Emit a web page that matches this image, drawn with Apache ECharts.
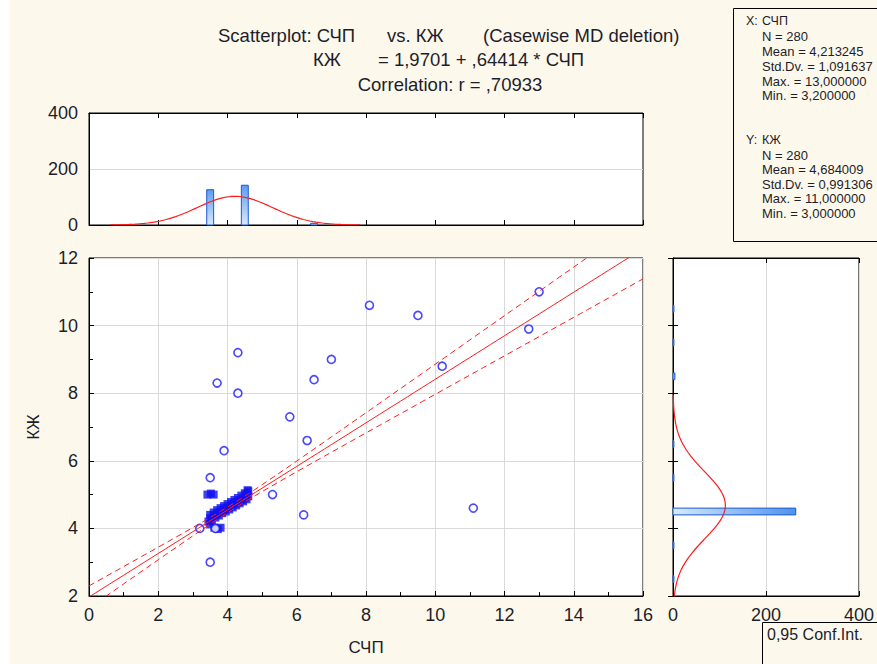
<!DOCTYPE html>
<html><head><meta charset="utf-8">
<script src="https://cdn.jsdelivr.net/npm/echarts@6/dist/echarts.min.js"></script>
<style>html,body{margin:0;padding:0;background:#fdf8ec}#c{width:877px;height:664px}</style>
</head><body><div id="c"></div>
<script>
// ---- data ----
const outX = [13.0, 12.7, 8.1, 9.5, 10.2, 7.0, 6.5, 4.3, 3.7, 4.3, 5.8, 3.9, 6.3, 3.5, 5.3, 6.2, 11.1, 3.5, 3.2, 3.65];
const outY = [11.0, 9.9, 10.6, 10.3, 8.8, 9.0, 8.4, 9.2, 8.3, 8.0, 7.3, 6.3, 6.6, 5.5, 5.0, 4.4, 4.6, 3.0, 4.0, 4.0];
const denseX = [3.45, 3.5, 3.55, 3.6, 3.65, 3.7, 3.75, 3.8, 3.85, 3.9, 3.95, 4.0, 4.05, 4.1, 4.15, 4.2, 4.25, 4.3, 4.35, 4.4, 4.45, 4.5, 4.55, 4.55, 4.6, 4.6,
                3.5, 3.6, 3.7, 3.8, 3.9, 4.0, 4.1, 4.2, 4.3, 4.4, 4.5, 4.58,
                3.42, 3.52, 3.6, 3.62, 3.72, 3.8, 3.5];
const denseY = [4.20, 4.30, 4.25, 4.35, 4.32, 4.42, 4.38, 4.48, 4.45, 4.55, 4.50, 4.60, 4.56, 4.66, 4.62, 4.72, 4.68, 4.78, 4.74, 4.84, 4.80, 4.90, 5.00, 4.86, 5.10, 4.95,
                4.40, 4.47, 4.54, 4.60, 4.66, 4.72, 4.78, 4.84, 4.90, 4.97, 5.04, 5.13,
                5.00, 5.03, 5.00, 4.02, 3.98, 4.02, 4.12];
const histXBins = [3.5, 4.5, 6.5];
const histXCounts = [126, 142, 6];
const histYBins = [2.5, 3.5, 4.5, 5.5, 6.5, 8.5, 9.5, 10.5];
const histYCounts = [2, 2, 264, 2, 2, 4, 2, 2];
// reported statistics
const N = 280, meanX = 4.213245, sdX = 1.091637, meanY = 4.684009, sdY = 0.991306;
const b0 = 1.9701, b1 = 0.64414, r = 0.70933;
const statsX = ['N = 280', 'Mean = 4,213245', 'Std.Dv. = 1,091637', 'Max. = 13,000000', 'Min. = 3,200000'];
const statsY = ['N = 280', 'Mean = 4,684009', 'Std.Dv. = 0,991306', 'Max. = 11,000000', 'Min. = 3,000000'];

// ---- fitted curves from the reported statistics ----
function pdf(v, m, s) { return Math.exp(-0.5 * ((v - m) / s) ** 2) / (s * Math.sqrt(2 * Math.PI)); }
const normTop = [], normRight = [];
for (let i = 0; i <= 80; i++) {
  const vx = meanX - 3.3 * sdX + i * 6.6 * sdX / 80;
  normTop.push([vx, N * pdf(vx, meanX, sdX)]);
  const vy = meanY - 3.3 * sdY + i * 6.6 * sdY / 80;
  normRight.push([N * pdf(vy, meanY, sdY), vy]);
}
const sRes = sdY * Math.sqrt(1 - r * r) * Math.sqrt((N - 1) / (N - 2));
const Sxx = (N - 1) * sdX * sdX, tq = 1.9687;
const regLine = [], upBand = [], loBand = [];
for (let i = 0; i <= 80; i++) {
  const vx = i * 16 / 80, yh = b0 + b1 * vx;
  const se = sRes * Math.sqrt(1 / N + (vx - meanX) ** 2 / Sxx);
  regLine.push([vx, yh]); upBand.push([vx, yh + tq * se]); loBand.push([vx, yh - tq * se]);
}

const FF = '"Liberation Sans", Arial, sans-serif';
const TXT = '#1e1e2a';
const BG = '#fdf8ec';
const chart = echarts.init(document.getElementById('c'), null, { renderer: 'svg' });

function vBar(params, api) {
  const x = api.value(0), h = api.value(1);
  const p0 = api.coord([x - 0.1, 0]), p1 = api.coord([x + 0.1, h]);
  return { type: 'rect', shape: { x: p0[0], y: p1[1], width: p1[0] - p0[0], height: p0[1] - p1[1] },
    style: { fill: new echarts.graphic.LinearGradient(0, 0, 0, 1, [{ offset: 0, color: '#5d9cef' }, { offset: 1, color: '#d8e9fc' }]), stroke: '#1d5ad0', lineWidth: 1 } };
}
function hBar(params, api) {
  const y = api.value(0), w = api.value(1);
  const p0 = api.coord([0, y + 0.1]), p1 = api.coord([w, y - 0.1]);
  return { type: 'rect', shape: { x: p0[0], y: p0[1], width: p1[0] - p0[0], height: p1[1] - p0[1] },
    style: { fill: new echarts.graphic.LinearGradient(0, 0, 1, 0, [{ offset: 0, color: '#d8e9fc' }, { offset: 1, color: '#4f92ec' }]), stroke: '#1d5ad0', lineWidth: 1 } };
}

const gridBase = { show: true, backgroundColor: '#fff', borderColor: '#000', borderWidth: 1, containLabel: false };
const lbl = { fontSize: 18, color: TXT, fontFamily: FF };
const split = { show: true, lineStyle: { color: '#d9d9d9', width: 1 } };
const blackLine = { show: true, lineStyle: { color: '#000', width: 1 } };
const tickIn = { show: true, inside: true, length: 5, lineStyle: { color: '#000' } };

function txt(x, y, t, size, extra) {
  return Object.assign({ type: 'text', x: x, y: y, z: 52, style: { text: t, font: size + 'px ' + FF, fill: TXT, verticalAlign: 'middle' } }, extra || {});
}
const graphics = [
  { type: 'rect', x: 0, y: 0, shape: { width: 10, height: 664 }, style: { fill: '#fff' }, z: -10 },
  txt(218, 35, 'Scatterplot: СЧП', 18.5),
  txt(387, 35, 'vs. КЖ', 18.5),
  txt(483, 35, '(Casewise MD deletion)', 18.5),
  txt(313, 59.5, 'КЖ', 18.5),
  txt(378, 59.5, '= 1,9701 + ,64414 * СЧП', 18.5),
  { type: 'text', x: 450, y: 84, z: 52, style: { text: 'Correlation: r = ,70933', font: '18.5px ' + FF, fill: TXT, align: 'center', verticalAlign: 'middle' } },
  { type: 'rect', x: 733.5, y: 8.5, shape: { width: 200, height: 233 }, style: { fill: 'none', stroke: '#000', lineWidth: 1 }, z: 50 },
  txt(746, 21, 'X:', 12.5), txt(762, 21, 'СЧП', 12.5),
  txt(746, 140, 'Y:', 12.5), txt(762, 140, 'КЖ', 12.5),
  { type: 'rect', x: 762.5, y: 622.5, shape: { width: 200, height: 100 }, style: { fill: BG, stroke: '#000', lineWidth: 1 }, z: 60 },
  { type: 'text', x: 767, y: 634, z: 61, style: { text: '0,95 Conf.Int.', font: '16px ' + FF, fill: TXT, verticalAlign: 'middle' } }
];
statsX.forEach((t, i) => graphics.push(txt(762, 36.5 + i * 14.85, t, 13)));
statsY.forEach((t, i) => graphics.push(txt(762, 155 + i * 14.5, t, 13)));

chart.setOption({
  backgroundColor: BG,
  animation: false,
  grid: [
    Object.assign({ left: 89, top: 258, width: 554, height: 338 }, gridBase),
    Object.assign({ left: 89, top: 113, width: 554, height: 112 }, gridBase),
    Object.assign({ left: 673, top: 258, width: 186, height: 338 }, gridBase)
  ],
  xAxis: [
    { gridIndex: 0, type: 'value', min: 0, max: 16, interval: 2, position: 'bottom', axisLine: blackLine, axisTick: tickIn,
      minorTick: { show: true, splitNumber: 2, length: 4, lineStyle: { color: '#000' } },
      axisLabel: Object.assign({ margin: 10 }, lbl), splitLine: split,
      name: 'СЧП', nameLocation: 'middle', nameGap: 43, nameTextStyle: { fontSize: 17, color: TXT, fontFamily: FF } },
    { gridIndex: 1, type: 'value', min: 0, max: 16, interval: 2, position: 'bottom', axisLine: blackLine, axisTick: tickIn, axisLabel: { show: false }, splitLine: { show: false } },
    { gridIndex: 1, type: 'value', min: 0, max: 16, interval: 2, position: 'top', axisLine: blackLine, axisTick: tickIn, axisLabel: { show: false }, splitLine: { show: false } },
    { gridIndex: 2, type: 'value', min: 0, max: 400, interval: 200, position: 'bottom', axisLine: blackLine, axisTick: tickIn,
      axisLabel: Object.assign({ margin: 10 }, lbl), splitLine: split },
    { gridIndex: 2, type: 'value', min: 0, max: 400, interval: 200, position: 'top', axisLine: blackLine, axisTick: tickIn, axisLabel: { show: false }, splitLine: { show: false } }
  ],
  yAxis: [
    { gridIndex: 0, type: 'value', min: 2, max: 12, interval: 2, position: 'left', axisLine: blackLine, axisTick: tickIn,
      minorTick: { show: true, splitNumber: 2, length: 4, lineStyle: { color: '#000' } },
      axisLabel: Object.assign({ margin: 11 }, lbl), splitLine: split,
      name: 'КЖ', nameLocation: 'middle', nameGap: 47, nameTextStyle: { fontSize: 17, color: TXT, fontFamily: FF } },
    { gridIndex: 1, type: 'value', min: 0, max: 400, interval: 200, position: 'left', axisLine: blackLine, axisTick: { show: false },
      axisLabel: Object.assign({ margin: 11 }, lbl), splitLine: split },
    { gridIndex: 2, type: 'value', min: 2, max: 12, interval: 2, position: 'left', axisLine: blackLine, axisTick: tickIn, axisLabel: { show: false }, splitLine: { show: false } },
    { gridIndex: 2, type: 'value', min: 2, max: 12, interval: 2, position: 'right', axisLine: blackLine, axisTick: tickIn, axisLabel: { show: false }, splitLine: { show: false } }
  ],
  graphic: graphics,
  series: [
    { type: 'scatter', xAxisIndex: 0, yAxisIndex: 0, symbol: 'rect', symbolSize: 8, z: 3,
      itemStyle: { color: '#1010f0' }, data: denseX.map((v, i) => [v, denseY[i]]) },
    { type: 'scatter', xAxisIndex: 0, yAxisIndex: 0, symbol: 'circle', symbolSize: 8, z: 3,
      itemStyle: { color: '#fff', borderColor: '#1a1aff', borderWidth: 1.6 }, data: outX.map((v, i) => [v, outY[i]]) },
    { type: 'line', xAxisIndex: 0, yAxisIndex: 0, data: regLine, symbol: 'none', clip: true, z: 5,
      lineStyle: { color: '#ff1a1a', width: 1 } },
    { type: 'line', xAxisIndex: 0, yAxisIndex: 0, data: upBand, symbol: 'none', clip: true, z: 5,
      lineStyle: { color: '#ff1a1a', width: 1, type: [6, 4] } },
    { type: 'line', xAxisIndex: 0, yAxisIndex: 0, data: loBand, symbol: 'none', clip: true, z: 5,
      lineStyle: { color: '#ff1a1a', width: 1, type: [6, 4] } },
    { type: 'custom', xAxisIndex: 1, yAxisIndex: 1, renderItem: vBar, data: histXBins.map((v, i) => [v, histXCounts[i]]), z: 3 },
    { type: 'line', xAxisIndex: 1, yAxisIndex: 1, data: normTop, symbol: 'none', clip: true, z: 5,
      lineStyle: { color: '#ff1a1a', width: 1.2 } },
    { type: 'custom', xAxisIndex: 3, yAxisIndex: 2, renderItem: hBar, data: histYBins.map((v, i) => [v, histYCounts[i]]), z: 3,
      encode: { x: 1, y: 0 } },
    { type: 'line', xAxisIndex: 3, yAxisIndex: 2, data: normRight, symbol: 'none', clip: true, z: 5,
      lineStyle: { color: '#ff1a1a', width: 1.2 } }
  ]
});
</script></body></html>
